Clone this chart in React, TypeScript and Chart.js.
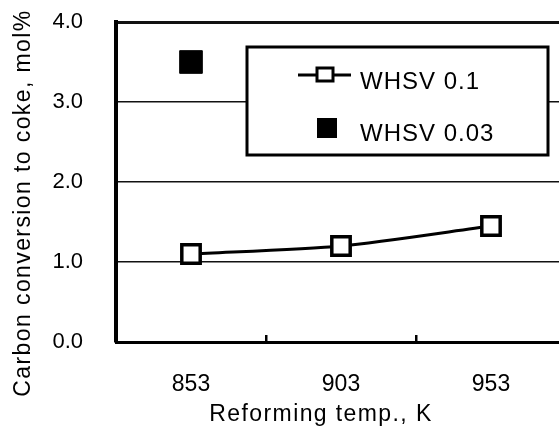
import React, { useEffect, useRef } from "react";
import { Chart, registerables } from "chart.js";

Chart.register(...registerables);

const categories = ["853", "903", "953"];
const whsv01 = [1.1, 1.2, 1.45];
const whsv003 = [3.5, null, null];
const yTicks = [0, 1, 2, 3, 4];
const seriesNames = ["WHSV 0.1", "WHSV 0.03"];
const xTitle = "Reforming temp., K";
const yTitle = "Carbon conversion to coke, mol%";

const FONT = "'Liberation Sans', Arial, Helvetica, sans-serif";

const decorPlugin = {
  id: "decor",
  afterDraw(chart: any) {
    const ctx = chart.ctx as CanvasRenderingContext2D;
    const area = chart.chartArea;
    // axis titles
    ctx.save();
    ctx.fillStyle = "#000";
    ctx.font = `23px ${FONT}`;
    (ctx as any).letterSpacing = "1.4px";
    ctx.textAlign = "center";
    ctx.textBaseline = "middle";
    ctx.fillText(xTitle, 321, 415);
    ctx.translate(24, 203);
    ctx.rotate(-Math.PI / 2);
    ctx.fillText(yTitle, 0, 0);
    ctx.restore();

    // legend
    const ds = chart.data.datasets;
    const bx = area.left + 131;
    const by = area.top + 25;
    ctx.save();
    ctx.fillStyle = "#fff";
    ctx.fillRect(bx, by, 301, 108);
    ctx.strokeStyle = "#000";
    ctx.lineWidth = 3;
    ctx.strokeRect(bx, by, 301, 108);
    // row 1
    const r1 = by + 28;
    ctx.lineWidth = 3;
    ctx.beginPath();
    ctx.moveTo(bx + 51, r1);
    ctx.lineTo(bx + 104, r1);
    ctx.stroke();
    ctx.fillStyle = "#fff";
    ctx.fillRect(bx + 70, r1 - 7, 16, 13);
    ctx.strokeRect(bx + 70, r1 - 7, 16, 13);
    // row 2
    const r2 = by + 81;
    ctx.fillStyle = ds[1].backgroundColor;
    ctx.fillRect(bx + 70, r2 - 10, 20, 20);
    ctx.fillStyle = "#000";
    ctx.font = `24px ${FONT}`;
    (ctx as any).letterSpacing = "1px";
    ctx.textAlign = "left";
    ctx.textBaseline = "middle";
    ctx.fillText(ds[0].label, bx + 113, r1 + 7);
    ctx.fillText(ds[1].label, bx + 113, r2 + 6);
    ctx.restore();
  },
};

export default function App() {
  const ref = useRef<HTMLCanvasElement>(null);
  useEffect(() => {
    if (!ref.current) return;
    const chart = new Chart(ref.current, {
      type: "line",
      data: {
        labels: categories,
        datasets: [
          {
            label: seriesNames[0],
            data: whsv01,
            borderColor: "#000",
            borderWidth: 3,
            tension: 0.25,
            pointStyle: "rect",
            pointRadius: 13,
            pointHoverRadius: 13,
            pointBorderWidth: 3.5,
            pointBackgroundColor: "#fff",
            pointBorderColor: "#000",
          },
          {
            label: seriesNames[1],
            data: whsv003,
            showLine: false,
            borderColor: "#000",
            backgroundColor: "#000",
            pointStyle: "rect",
            pointRadius: 16,
            pointHoverRadius: 16,
            pointBorderWidth: 1,
            pointBackgroundColor: "#000",
            pointBorderColor: "#000",
          },
        ],
      },
      options: {
        responsive: false,
        animation: false,
        devicePixelRatio: 1,
        layout: { autoPadding: false, padding: { top: 22, right: 9, left: 0, bottom: 0 } },
        plugins: { legend: { display: false }, tooltip: { enabled: false } },
        scales: {
          x: {
            type: "category",
            offset: true,
            grid: {
              offset: true,
              drawOnChartArea: false,
              drawTicks: true,
              tickLength: -7,
              lineWidth: 2.5,
              color: "#000",
            },
            border: { display: true, width: 3, color: "#000" },
            ticks: {
              color: "#000",
              font: { family: FONT, size: 23 },
              padding: 36,
              maxRotation: 0,
            },
            afterFit(scale: any) {
              scale.height = 86;
            },
          },
          y: {
            min: 0,
            max: 4,
            afterBuildTicks(scale: any) {
              scale.ticks = yTicks.map((v) => ({ value: v }));
            },
            grid: {
              drawTicks: false,
              color: "#111",
              lineWidth: (c: any) => (c.tick && c.tick.value === 4 ? 3 : 1.5),
            },
            border: { display: true, width: 4, color: "#000" },
            ticks: {
              color: "#000",
              font: { family: FONT, size: 22 },
              padding: 33,
              callback: (v: any) => Number(v).toFixed(1),
            },
            afterFit(scale: any) {
              scale.width = 116;
              scale.paddingTop = 0;
              scale.paddingBottom = 0;
            },
          },
        },
      },
      plugins: [decorPlugin],
    } as any);
    return () => chart.destroy();
  }, []);
  return (
    <div
      style={{
        position: "fixed",
        left: 0,
        top: 0,
        width: 559,
        height: 428,
        overflow: "hidden",
        background: "#fff",
      }}
    >
      <canvas ref={ref} width={575} height={428} style={{ display: "block" }} />
    </div>
  );
}
